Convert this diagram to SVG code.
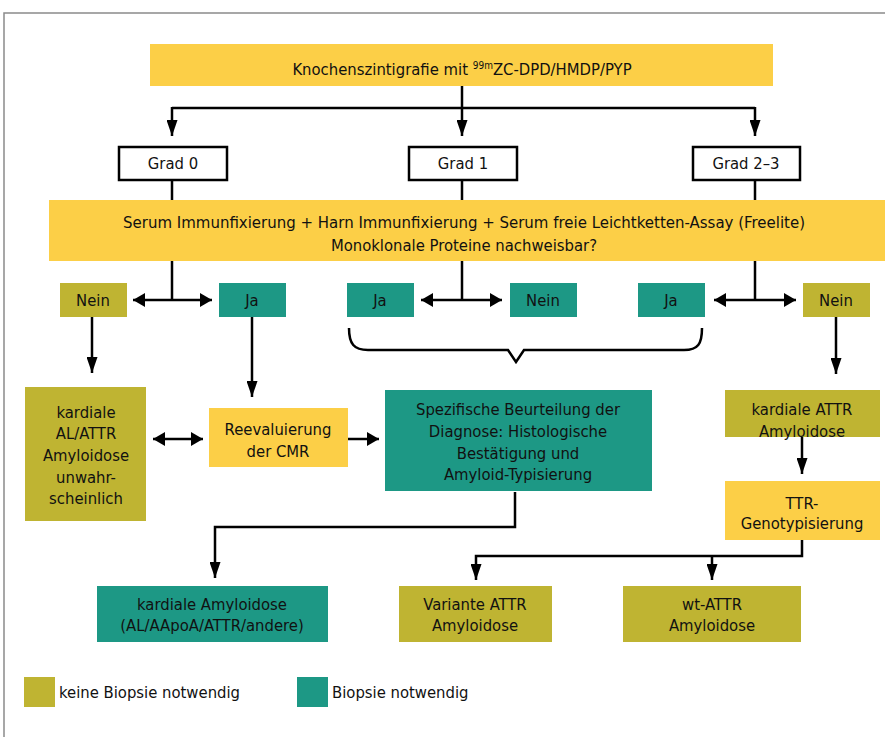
<svg xmlns="http://www.w3.org/2000/svg" width="885" height="737" viewBox="0 0 885 737">
<defs>
<style>
text{font-family:"Liberation Sans Narrow","DejaVu Sans Condensed","Liberation Sans",sans-serif;font-size:16.5px;fill:#111;text-anchor:middle}
.y{fill:#FCCF47}
.o{fill:#BFB432}
.t{fill:#1D9885}
.w{fill:#fff;stroke:#000;stroke-width:2.5}
.c{fill:none;stroke:#000;stroke-width:2.5}
.lg{text-anchor:start}
</style>
<marker id="av" markerUnits="userSpaceOnUse" markerWidth="17" markerHeight="11" refX="16" refY="5.5" orient="auto-start-reverse"><path d="M0,0 L16,5.5 L0,11 z" fill="#000"/></marker>
<marker id="ah" markerUnits="userSpaceOnUse" markerWidth="13" markerHeight="14" refX="12" refY="7" orient="auto-start-reverse"><path d="M0,0 L12,7 L0,14 z" fill="#000"/></marker>
</defs>
<rect x="4" y="13" width="890" height="740" fill="#fff" stroke="#8a8a8a" stroke-width="1.5"/>
<g id="connectors">
<path class="c" d="M462,86 V108"/>
<path class="c" d="M172,108 H755"/>
<path class="c" d="M172,107 V136" marker-end="url(#av)"/>
<path class="c" d="M462,108 V136" marker-end="url(#av)"/>
<path class="c" d="M755,107 V136" marker-end="url(#av)"/>
<path class="c" d="M172,180 V200 M462,180 V200 M755,180 V200"/>
<path class="c" d="M172,261 V300 M462,261 V300 M755,261 V300"/>
<path class="c" d="M133,300 H212" marker-start="url(#ah)" marker-end="url(#ah)"/>
<path class="c" d="M421,300 H502" marker-start="url(#ah)" marker-end="url(#ah)"/>
<path class="c" d="M714,300 H796" marker-start="url(#ah)" marker-end="url(#ah)"/>
<path class="c" d="M349,328 C349,344 354,350 368,350 H508 L516,362 L524,350 H684 C698,350 702,344 702,328"/>
<path class="c" d="M92,317 V373" marker-end="url(#av)"/>
<path class="c" d="M252,317 V397" marker-end="url(#av)"/>
<path class="c" d="M836,317 V374" marker-end="url(#av)"/>
<path class="c" d="M153,439 H203" marker-start="url(#ah)" marker-end="url(#ah)"/>
<path class="c" d="M347,439 H379" marker-end="url(#ah)"/>
<path class="c" d="M515,492 V527 H215 V578" marker-end="url(#av)"/>
<path class="c" d="M802,437 V474" marker-end="url(#av)"/>
<path class="c" d="M802,540 V556 H476 V580" marker-end="url(#av)"/>
<path class="c" d="M712,556 V580" marker-end="url(#av)"/>
</g>
<g id="n-top"><rect class="y" x="150" y="44" width="623" height="42"/><text x="462" y="75">Knochenszintigrafie mit <tspan font-size="10" dy="-6">99m</tspan><tspan dy="6">ZC-DPD/HMDP/PYP</tspan></text></g>
<g id="n-grad0"><rect class="w" x="119" y="147" width="108" height="33"/><text x="173" y="169">Grad 0</text></g>
<g id="n-grad1"><rect class="w" x="409" y="147" width="108" height="33"/><text x="463" y="169">Grad 1</text></g>
<g id="n-grad23"><rect class="w" x="693" y="147" width="107" height="33"/><text x="746" y="169">Grad 2–3</text></g>
<g id="n-serum"><rect class="y" x="49" y="200" width="840" height="61"/><text x="464" y="228" textLength="682" lengthAdjust="spacingAndGlyphs">Serum Immunfixierung + Harn Immunfixierung + Serum freie Leichtketten-Assay (Freelite)</text><text x="464" y="251">Monoklonale Proteine nachweisbar?</text></g>
<g id="n-nein1"><rect class="o" x="60" y="283" width="67" height="34"/><text x="93" y="306">Nein</text></g>
<g id="n-ja1"><rect class="t" x="219" y="283" width="67" height="34"/><text x="252" y="306">Ja</text></g>
<g id="n-ja2"><rect class="t" x="347" y="283" width="67" height="34"/><text x="380" y="306">Ja</text></g>
<g id="n-nein2"><rect class="t" x="510" y="283" width="67" height="34"/><text x="543" y="306">Nein</text></g>
<g id="n-ja3"><rect class="t" x="638" y="283" width="67" height="34"/><text x="671" y="306">Ja</text></g>
<g id="n-nein3"><rect class="o" x="803" y="283" width="67" height="34"/><text x="836" y="306">Nein</text></g>
<g id="n-unwahr"><rect class="o" x="25" y="387" width="121" height="134"/><text x="86" y="418">kardiale</text><text x="86" y="439">AL/ATTR</text><text x="86" y="461">Amyloidose</text><text x="86" y="483">unwahr-</text><text x="86" y="504">scheinlich</text></g>
<g id="n-reeval"><rect class="y" x="209" y="408" width="139" height="59"/><text x="278" y="435">Reevaluierung</text><text x="278" y="457">der CMR</text></g>
<g id="n-spez"><rect class="t" x="385" y="390" width="267" height="101"/><text x="518" y="415">Spezifische Beurteilung der</text><text x="518" y="437">Diagnose: Histologische</text><text x="518" y="459">Bestätigung und</text><text x="518" y="480">Amyloid-Typisierung</text></g>
<g id="n-kattr"><rect class="o" x="725" y="390" width="155" height="47"/><text x="802" y="415">kardiale ATTR</text><text x="802" y="437">Amyloidose</text></g>
<g id="n-ttr"><rect class="y" x="725" y="481" width="155" height="59"/><text x="802" y="509">TTR-</text><text x="802" y="529">Genotypisierung</text></g>
<g id="n-kamy"><rect class="t" x="97" y="586" width="231" height="56"/><text x="212" y="610">kardiale Amyloidose</text><text x="212" y="631">(AL/AApoA/ATTR/andere)</text></g>
<g id="n-var"><rect class="o" x="399" y="586" width="153" height="56"/><text x="475" y="610">Variante ATTR</text><text x="475" y="631">Amyloidose</text></g>
<g id="n-wt"><rect class="o" x="623" y="586" width="178" height="56"/><text x="712" y="610">wt-ATTR</text><text x="712" y="631">Amyloidose</text></g>
<g id="legend"><rect class="o" x="24" y="677" width="31" height="30"/><text class="lg" x="59" y="698">keine Biopsie notwendig</text><rect class="t" x="297" y="677" width="31" height="30"/><text class="lg" x="332" y="698">Biopsie notwendig</text></g>
</svg>
